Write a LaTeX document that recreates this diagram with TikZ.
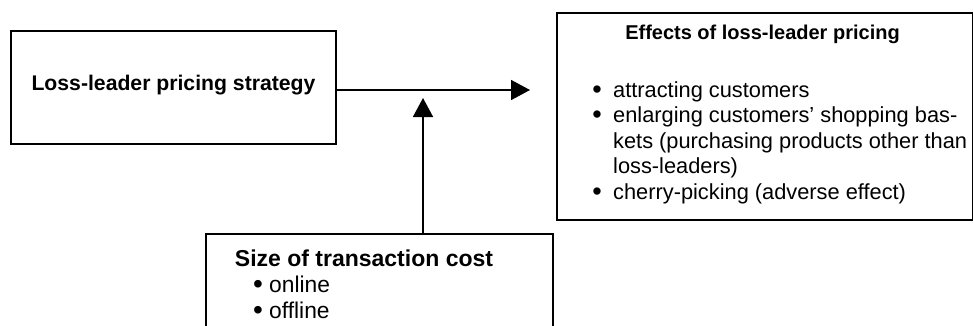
\documentclass[tikz,border=0pt]{standalone}
\usepackage{fontspec}
\setmainfont{Liberation Sans}
\usetikzlibrary{arrows.meta}
\begin{document}
\begin{tikzpicture}[x=1pt,y=-1pt,
  box/.style={draw,line width=1.6pt,inner sep=0pt,anchor=north west},
  txt/.style={inner sep=0pt,anchor=base},
  rbody/.style={txt,font=\fontsize{21.8}{25}\selectfont},
  bbody/.style={txt,font=\fontsize{22.8}{25}\selectfont},
  dot/.style={txt,font=\fontsize{27}{25}\selectfont},
  conn/.style={line width=1.6pt,-{Triangle[length=19pt,width=20pt]}}]
\useasboundingbox (0,0) rectangle (973,325);
\clip (0,0) rectangle (973,325);
% boxes
\node[box,minimum width=325pt,minimum height=113pt] (lb) at (10,30) {};
\node[box,minimum width=416pt,minimum height=207pt] (rb) at (556,12) {};
\node[box,minimum width=347pt,minimum height=120pt] (bb) at (205,233) {};
% texts
\node[txt,font=\fontsize{21.2}{25}\selectfont\bfseries] (lt) at (173.5,90) {Loss-leader pricing strategy};
\node[txt,font=\fontsize{20}{25}\selectfont\bfseries] (rt) at (762.5,39) {Effects of loss-leader pricing};
\node[dot] (rb1) at (597,98) {•};
\node[rbody,anchor=base west] (r1) at (613,97) {attracting customers};
\node[dot] (rb2) at (597,123.5) {•};
\node[rbody,anchor=base west] (r2) at (613,122.5) {enlarging customers’ shopping bas-};
\node[rbody,anchor=base west] (r3) at (613,148) {kets (purchasing products other than};
\node[rbody,anchor=base west] (r4) at (613,173.5) {loss-leaders)};
\node[dot] (rb3) at (597,200) {•};
\node[rbody,anchor=base west] (r5) at (613,199) {cherry-picking (adverse effect)};
\node[txt,font=\fontsize{23}{25}\selectfont\bfseries] (bt) at (364,266) {Size of transaction cost};
\node[dot,font=\fontsize{28}{25}\selectfont] (bb1) at (258,293) {•};
\node[bbody,anchor=base west] (b1) at (269,292) {online};
\node[dot,font=\fontsize{28}{25}\selectfont] (bb2) at (258,319) {•};
\node[bbody,anchor=base west] (b2) at (269,318) {offline};
% connectors
\coordinate (h0) at (lb.east |- 0,90);
\coordinate (h1) at (530,90);
\draw[conn] (h0) -- (h1);
\coordinate (v0) at (423,233);
\coordinate (v1) at (423,98);
\draw[conn] (v0) -- (v1);
\end{tikzpicture}
\end{document}
